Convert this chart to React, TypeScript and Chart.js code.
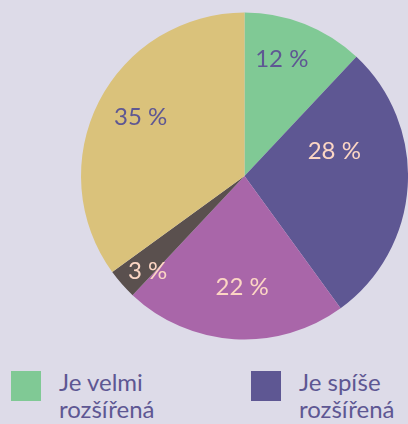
import React, { useEffect, useRef } from "react";
import { Chart, registerables } from "chart.js";

Chart.register(...registerables);

const categories = [
  "Je velmi rozšířená",
  "Je spíše rozšířená",
  "Je spíše nerozšířená",
  "Není vůbec rozšířená",
  "Nevím",
];
const values = [12, 28, 22, 3, 35];
const labelTexts = ["12 %", "28 %", "22 %", "3 %", "35 %"];

const sliceColors = ["#80c995", "#5e5793", "#a966a9", "#5a504e", "#dac27b"];
const labelColors = ["#5e5793", "#fcd6c4", "#fcd6c4", "#fcd6c4", "#5e5793"];
const labelRadialFraction = [0.75, 0.57, 0.68, 0.83, 0.73];
const labelAngleFraction = [0.41, 0.31, 0.47, 0.22, 0.52];
const BG = "#dddbe8";
const FONT = "Lato, 'Open Sans', sans-serif";

const labelPlugin = {
  id: "sliceLabels",
  afterDatasetsDraw(chart: any) {
    const ctx = chart.ctx;
    const meta = chart.getDatasetMeta(0);
    ctx.save();
    ctx.font = `24px ${FONT}`;
    ctx.textAlign = "center";
    ctx.textBaseline = "middle";
    meta.data.forEach((arc: any, i: number) => {
      const { x, y, startAngle, endAngle, outerRadius } = arc.getProps(
        ["x", "y", "startAngle", "endAngle", "outerRadius"],
        true
      );
      const a = startAngle + (endAngle - startAngle) * labelAngleFraction[i];
      const r = outerRadius * labelRadialFraction[i];
      ctx.fillStyle = labelColors[i];
      ctx.fillText(labelTexts[i], x + Math.cos(a) * r, y + Math.sin(a) * r);
    });
    ctx.restore();
  },
};

export default function App() {
  const ref = useRef<HTMLCanvasElement | null>(null);

  useEffect(() => {
    document.body.style.margin = "0";
    document.body.style.background = BG;
    if (!ref.current) return;
    const chart = new Chart(ref.current, {
      type: "pie",
      data: {
        labels: categories,
        datasets: [
          {
            data: values,
            backgroundColor: sliceColors,
            borderWidth: 0,
          },
        ],
      },
      options: {
        animation: false,
        responsive: false,
        maintainAspectRatio: false,
        layout: { padding: { left: 81, right: 0, top: 12, bottom: 12 } },
        plugins: {
          legend: { display: false },
          tooltip: { enabled: false },
        },
      },
      plugins: [labelPlugin],
    });
    return () => chart.destroy();
  }, []);

  return (
    <div style={{ width: 408, background: BG, fontFamily: FONT, overflow: "hidden" }}>
      <canvas ref={ref} width={408} height={352} style={{ display: "block" }} />
      <div
        style={{
          display: "grid",
          gridTemplateColumns: "240px 168px",
          marginTop: 16,
        }}
      >
        {categories.map((c, i) => (
          <div
            key={c}
            style={{
              display: "flex",
              alignItems: "flex-start",
              marginBottom: 14,
            }}
          >
            <div
              style={{
                width: 30,
                height: 30,
                marginLeft: 11,
                marginTop: 3,
                background: sliceColors[i],
                flex: "none",
              }}
            />
            <div
              style={{
                marginLeft: 18,
                width: 115,
                fontSize: 24,
                lineHeight: "27px",
                color: "#5e5793",
              }}
            >
              {c}
            </div>
          </div>
        ))}
      </div>
    </div>
  );
}
